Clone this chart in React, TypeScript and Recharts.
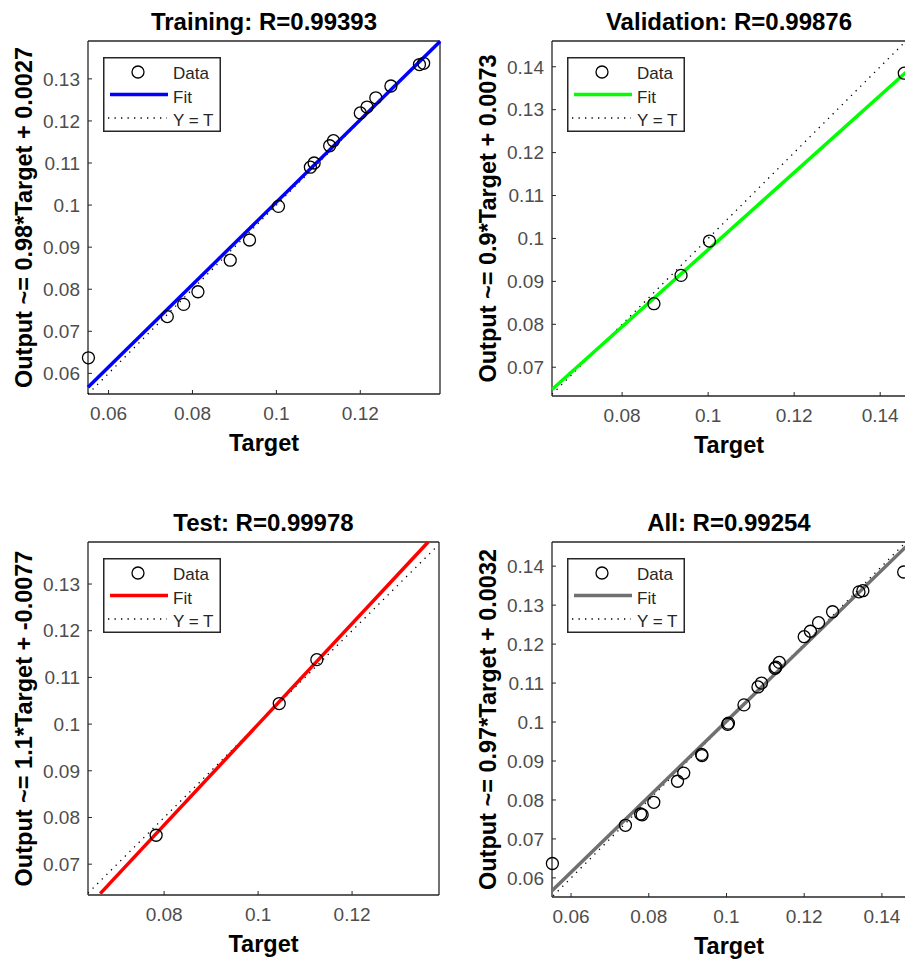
import React from "react";
import { ComposedChart, Scatter, XAxis, YAxis, Legend } from "recharts";

type Pt = { x: number; y: number };

// targets / outputs
const trainTarget = [0.0552, 0.074, 0.0779, 0.0813, 0.089, 0.0936, 0.1005, 0.1081, 0.109, 0.1127, 0.1136, 0.12, 0.1216, 0.1237, 0.1273, 0.1341, 0.1351];
const trainOutput = [0.0637, 0.0735, 0.0764, 0.0794, 0.0869, 0.0917, 0.0997, 0.109, 0.11, 0.1141, 0.1153, 0.1219, 0.1233, 0.1255, 0.1283, 0.1334, 0.1337];
const valTarget = [0.0874, 0.0937, 0.1003, 0.1456];
const valOutput = [0.0848, 0.0914, 0.0994, 0.1385];
const testTarget = [0.0783, 0.1045, 0.1125];
const testOutput = [0.0762, 0.1044, 0.1138];

// visible ends of the fitted lines
const trainFitX = [0.0551, 0.139];
const trainFitY = [0.0567, 0.1389];
const valFitX = [0.0637, 0.146];
const valFitY = [0.0648, 0.1387];
const testFitX = [0.0664, 0.1362];
const testFitY = [0.0637, 0.139];
const allFitX = [0.0551, 0.1462];
const allFitY = [0.0567, 0.145];

// Y = T reference ends
const trainIdentity = [0.0551, 0.139];
const valIdentity = [0.0637, 0.146];
const testIdentity = [0.0638, 0.1383];
const allIdentity = [0.0554, 0.1462];

const ticks06to13 = [0.06, 0.07, 0.08, 0.09, 0.1, 0.11, 0.12, 0.13];
const ticks07to14 = [0.07, 0.08, 0.09, 0.1, 0.11, 0.12, 0.13, 0.14];
const ticks07to13 = [0.07, 0.08, 0.09, 0.1, 0.11, 0.12, 0.13];
const ticks06to14 = [0.06, 0.07, 0.08, 0.09, 0.1, 0.11, 0.12, 0.13, 0.14];
const xTicksTrain = [0.06, 0.08, 0.1, 0.12];
const xTicksVal = [0.08, 0.1, 0.12, 0.14];
const xTicksTest = [0.08, 0.1, 0.12];
const xTicksAll = [0.06, 0.08, 0.1, 0.12, 0.14];

const AXIS = "#262626";
const TICK = "#4d4d4d";
const FONT = '"Liberation Sans", Arial, Helvetica, sans-serif';

const zip = (xs: number[], ys: number[]): Pt[] => xs.map((x, i) => ({ x, y: ys[i] }));
const diag = (v: number[]): Pt[] => v.map((x) => ({ x, y: x }));

function LegendBox({ color }: { color: string }) {
  return (
    <svg width={118} height={75} style={{ display: "block", fontFamily: FONT }}>
      <rect x={0.75} y={0.75} width={116.5} height={73.5} fill="#fff" stroke={AXIS} strokeWidth={1.5} />
      <circle cx={35} cy={15} r={6} fill="none" stroke="#000" strokeWidth={1.3} />
      <line x1={7} x2={65} y1={37.5} y2={37.5} stroke={color} strokeWidth={3.5} />
      <line x1={5} x2={64} y1={61} y2={61} stroke="#000" strokeWidth={1.3} strokeDasharray="1.3 5.2" />
      <text x={70} y={21.5} fontSize={17} fill={AXIS}>Data</text>
      <text x={70} y={45.8} fontSize={17} fill={AXIS}>Fit</text>
      <text x={70} y={69} fontSize={17} fill={AXIS}>Y = T</text>
    </svg>
  );
}

type PanelProps = {
  title: string;
  yLabel: string;
  color: string;
  data: Pt[];
  fit: Pt[];
  identity: Pt[];
  xDomain: [number, number];
  yDomain: [number, number];
  xTicks: number[];
  yTicks: number[];
  plotW: number;
  plotH: number;
  left: number;
  top: number;
};

const circle = (p: any) => (
  <circle cx={p.cx} cy={p.cy} r={6} fill="none" stroke="#000" strokeWidth={1.3} />
);

function Panel(p: PanelProps) {
  const W = 88 + p.plotW + 10;
  const H = 41 + p.plotH + 66;
  const tickStyle = { fontSize: 19, fill: TICK };
  const boldLabel = { fontSize: 23.5, fontWeight: 700, fill: "#000" };
  return (
    <div style={{ position: "absolute", left: p.left, top: p.top, fontFamily: FONT }}>
      <ComposedChart width={W} height={H} margin={{ top: 31, right: 0, bottom: 0, left: 0 }}>
        <XAxis
          xAxisId="b"
          type="number"
          dataKey="x"
          domain={p.xDomain}
          ticks={p.xTicks}
          interval={0}
          height={66}
          tickSize={-4}
          tickMargin={17}
          tick={tickStyle}
          tickFormatter={(v: number) => String(v)}
          axisLine={{ stroke: AXIS, strokeWidth: 1.3 }}
          tickLine={{ stroke: AXIS }}
          label={{ value: "Target", position: "insideBottom", offset: 9, ...boldLabel }}
        />
        <XAxis
          xAxisId="t"
          orientation="top"
          type="number"
          dataKey="x"
          domain={p.xDomain}
          ticks={p.xTicks}
          interval={0}
          height={10}
          tickSize={-4}
          tick={false}
          axisLine={{ stroke: AXIS, strokeWidth: 1.3 }}
          tickLine={{ stroke: AXIS }}
          label={{ value: p.title, position: "top", offset: 1.5, ...boldLabel, fontSize: 24 }}
        />
        <YAxis
          yAxisId="l"
          type="number"
          dataKey="y"
          domain={p.yDomain}
          ticks={p.yTicks}
          interval={0}
          width={88}
          tickSize={-4}
          tickMargin={12}
          tick={tickStyle}
          tickFormatter={(v: number) => String(v)}
          axisLine={{ stroke: AXIS, strokeWidth: 1.3 }}
          tickLine={{ stroke: AXIS }}
          label={{
            value: p.yLabel,
            angle: -90,
            position: "insideLeft",
            offset: 23.5,
            style: { textAnchor: "middle" },
            ...boldLabel,
          }}
        />
        <YAxis
          yAxisId="r"
          orientation="right"
          type="number"
          dataKey="y"
          domain={p.yDomain}
          ticks={p.yTicks}
          interval={0}
          width={10}
          tickSize={-4}
          tick={false}
          axisLine={{ stroke: AXIS, strokeWidth: 1.3 }}
          tickLine={{ stroke: AXIS }}
        />
        <Legend
          layout="vertical"
          align="center"
          verticalAlign="middle"
          wrapperStyle={{ left: 103, top: 57, width: "auto" }}
          content={() => <LegendBox color={p.color} />}
        />
        <Scatter
          xAxisId="b"
          yAxisId="l"
          name="Y = T"
          data={p.identity}
          line={{ stroke: "#000", strokeWidth: 1.3, strokeDasharray: "1.3 5.2" }}
          shape={() => <g />}
          legendType="none"
          isAnimationActive={false}
        />
        <Scatter
          xAxisId="b"
          yAxisId="l"
          name="Fit"
          data={p.fit}
          line={{ stroke: p.color, strokeWidth: 3.5 }}
          shape={() => <g />}
          legendType="none"
          isAnimationActive={false}
        />
        <Scatter
          xAxisId="b"
          yAxisId="l"
          name="Data"
          data={p.data}
          shape={circle}
          isAnimationActive={false}
        />
      </ComposedChart>
    </div>
  );
}

export default function App() {
  const train = zip(trainTarget, trainOutput);
  const val = zip(valTarget, valOutput);
  const test = zip(testTarget, testOutput);
  const all = [...train, ...val, ...test];
  return (
    <div
      style={{
        position: "absolute",
        left: 0,
        top: 0,
        width: 905,
        height: 967,
        overflow: "hidden",
        background: "#fff",
      }}
    >
      <Panel
        title="Training: R=0.99393"
        yLabel="Output ~= 0.98*Target + 0.0027"
        color="#0000ff"
        data={train}
        fit={zip(trainFitX, trainFitY)}
        identity={diag(trainIdentity)}
        xDomain={[0.0551, 0.139]}
        yDomain={[0.0551, 0.139]}
        xTicks={xTicksTrain}
        yTicks={ticks06to13}
        plotW={352}
        plotH={353}
        left={0}
        top={0}
      />
      <Panel
        title="Validation: R=0.99876"
        yLabel="Output ~= 0.9*Target + 0.0073"
        color="#00ff00"
        data={val}
        fit={zip(valFitX, valFitY)}
        identity={diag(valIdentity)}
        xDomain={[0.0637, 0.146]}
        yDomain={[0.0633, 0.146]}
        xTicks={xTicksVal}
        yTicks={ticks07to14}
        plotW={354}
        plotH={355}
        left={464}
        top={0}
      />
      <Panel
        title="Test: R=0.99978"
        yLabel="Output ~= 1.1*Target + -0.0077"
        color="#ff0000"
        data={test}
        fit={zip(testFitX, testFitY)}
        identity={diag(testIdentity)}
        xDomain={[0.0638, 0.1385]}
        yDomain={[0.0634, 0.139]}
        xTicks={xTicksTest}
        yTicks={ticks07to13}
        plotW={351}
        plotH={353}
        left={0}
        top={501}
      />
      <Panel
        title="All: R=0.99254"
        yLabel="Output ~= 0.97*Target + 0.0032"
        color="#707070"
        data={all}
        fit={zip(allFitX, allFitY)}
        identity={diag(allIdentity)}
        xDomain={[0.0551, 0.1462]}
        yDomain={[0.0551, 0.1462]}
        xTicks={xTicksAll}
        yTicks={ticks06to14}
        plotW={354}
        plotH={355}
        left={464}
        top={501}
      />
    </div>
  );
}
